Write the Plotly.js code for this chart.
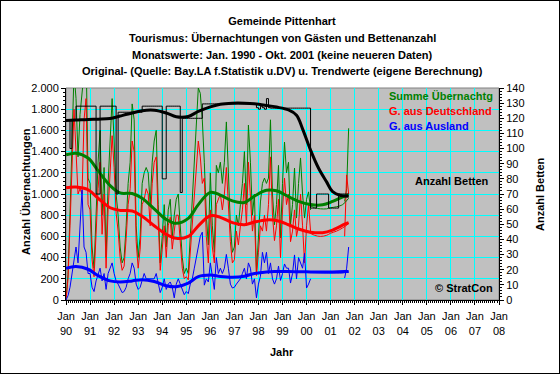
<!DOCTYPE html>
<html><head><meta charset="utf-8">
<script src="https://cdn.plot.ly/plotly-3.0.1.min.js"></script>
<style>
body{margin:0;background:#fff}
#frame{width:560px;height:374px;box-sizing:border-box;border:1px solid #000;overflow:hidden}
#chart{width:558px;height:372px}
</style>
</head><body><div id="frame"><div id="chart"></div></div>
<script>
// ---- data (months counted from Jan 1990 = 0) ----
const yearLabels = ['90','91','92','93','94','95','96','97','98','99','00','01','02','03','04','05','06','07','08'];
const leftTickVals = [0,200,400,600,800,1000,1200,1400,1600,1800,2000];
const leftTickText = ['0','200','400','600','800','1.000','1.200','1.400','1.600','1.800','2.000'];

// Monthly raw values, months 0..122
const summe = [
 0,240,820,1550,2150,1900,1350,1750,2040,2200,2350,1150,
 1100,500,300,800,1300,1600,800,1250,400,1100,1500,
 1900,1500,1000,800,500,350,400,700,1100,1300,1850,
 1700,700,400,600,1100,1200,1250,1200,900,1300,1500,
 1600,900,350,600,900,500,850,950,600,800,950,
 1000,700,400,250,300,250,600,900,1300,1650,2000,
 1950,1700,1300,800,520,1200,700,450,1270,1200,1300,
 1100,1300,1680,1200,700,450,500,800,700,900,1100,
 1400,900,1650,1300,800,1000,260,600,925,1100,1150,
 1100,1150,1700,1000,710,900,1270,585,1100,1490,1200,
 1300,710,900,1245,773,1100,1340,1000,773,950,1020,850];
const deutsch = [
 0,200,700,1300,1800,1400,1000,1050,1000,1700,1900,900,
 850,380,220,620,1050,1300,620,1000,300,850,1200,
 1550,1250,820,650,400,280,320,580,900,1050,1500,
 1400,550,300,480,900,950,1050,1000,700,1100,1300,
 1350,750,280,480,700,400,700,780,480,650,800,
 800,550,300,200,220,190,450,700,1000,1250,1500,
 1350,1100,1150,600,350,850,500,350,900,950,1000,
 850,1000,1250,900,550,350,380,650,520,700,850,
 1100,700,1300,1000,650,800,230,450,700,650,800,
 650,900,1350,800,560,700,950,400,850,1150,900,
 1000,550,650,850,600,700,1000,700,350,700,900,650];
const ausland = [
 0,40,120,250,350,500,350,700,1040,500,450,250,
 250,120,80,180,250,300,180,250,100,250,300,
 350,250,180,150,100,70,80,120,200,250,350,
 300,150,100,120,200,250,200,200,200,200,200,
 250,150,70,120,200,100,150,170,120,20,150,
 200,150,100,50,80,60,150,200,300,400,500,
 600,640,140,200,170,350,200,100,400,250,300,
 250,300,430,300,150,113,120,150,180,200,250,
 300,200,350,300,150,200,20,150,225,450,350,
 450,250,350,200,150,200,320,185,250,340,300,
 300,160,250,425,200,400,340,300,440,113,150,200];
// last reported months (Aug - Okt 2001)
const tailMonths = [139,140,141];
const summeTail = [930,1050,1620];
const deutschTail = [600,1180,1000];
const auslandTail = [207,300,500];

// Trend values (eigene Berechnung)
const trendMonths = [0,5,11,16,22,27,33,38,44,50,55,61,66,72,77,83,89,94,100,105,111,116,122,128,133,139,141];
const summeTrend = [1370,1385,1340,1220,1080,1010,1005,960,860,760,723,770,900,1015,990,935,920,980,1035,1030,975,930,900,898,930,980,990];
const deutschTrend = [1060,1065,1040,960,870,845,840,790,700,620,582,600,700,795,780,730,710,735,755,750,710,670,640,635,660,715,730];
const auslandTrend = [300,315,290,230,180,170,180,192,175,135,125,160,220,235,222,215,225,250,265,268,268,267,265,265,265,268,270];
// second (thin) trend at the end
const trend2Months = [121,124,127,130,132,135,138,141];
const summeTrend2 = [900,870,860,860,870,880,900,960];
const deutschTrend2 = [640,610,600,610,630,650,680,720];
const auslandTrend2 = [260,258,256,255,255,255,255,265];

// Beds (Anzahl Betten), monthly, months 0..141
const betten = [
 119,119,100,119,119,
 128,128,128,128,128,128,128,128,128,128,
 70,70,
 128,128,128,128,128,128,128,128,
 70,
 124,124,124,124,124,124,124,124,124,124,124,124,
 128,128,128,128,128,128,128,128,128,128,
 80,80,
 128,128,128,128,128,128,128,
 71,
 120,120,120,120,120,120,120,120,120,120,
 129.5,129.5,129.5,129.5,129.5,129.5,129.5,129.5,129.5,129.5,
 129.5,129.5,129.5,129.5,129.5,129.5,129.5,129.5,129.5,129.5,
 129.5,129.5,129.5,129.5,129.5,129.5,129.5,
 127,126,128,127,126,133,127,
 126.7,126.7,126.7,126.7,126.7,126.7,126.7,126.7,126.7,126.7,
 126.7,126.7,126.7,126.7,126.7,126.7,126.7,126.7,126.7,126.7,
 60.7,60.7,60.7,
 70,70,70,70,70,70,
 60.7,60.7,60.7,60.7,60.7,
 70,70,70,70,70,70];
const bettenTrendMonths = [0,5,11,16,22,27,33,38,44,50,55,61,66,72,77,83,89,94,100,105,111,115,118,122,126,130,133,137,141];
const bettenTrend = [118.5,118.8,119.2,119.4,119.8,121.5,123.5,125,125.3,123.5,121,121.2,124.5,127.5,129.3,130,130,129.6,128.5,127.4,125.5,122,113,99,87,78,71.5,69,68.5];

// ---- build ----
const months = summe.map((_, i) => i);
const rawX = months.concat([null], tailMonths);
const join = (a, t) => a.concat([null], t);
const GREEN = '#008000', RED = '#ff0000', BLUE = '#0000ff';
const FONT = 'Liberation Sans, Arial, sans-serif';

const traces = [
  {x: rawX, y: join(summe, summeTail), mode: 'lines', line: {color: GREEN, width: 1}, name: 'Summe Übernachtg'},
  {x: rawX, y: join(deutsch, deutschTail), mode: 'lines', line: {color: RED, width: 1}, name: 'G. aus Deutschland'},
  {x: rawX, y: join(ausland, auslandTail), mode: 'lines', line: {color: BLUE, width: 1}, name: 'G. aus Ausland'},
  {x: trend2Months, y: summeTrend2, mode: 'lines', line: {color: GREEN, width: 1, shape: 'spline'}},
  {x: trend2Months, y: deutschTrend2, mode: 'lines', line: {color: RED, width: 1, shape: 'spline'}},
  {x: trend2Months, y: auslandTrend2, mode: 'lines', line: {color: BLUE, width: 1, shape: 'spline'}},
  {x: trendMonths, y: summeTrend, mode: 'lines', line: {color: GREEN, width: 3, shape: 'spline'}},
  {x: trendMonths, y: deutschTrend, mode: 'lines', line: {color: RED, width: 3, shape: 'spline'}},
  {x: trendMonths, y: auslandTrend, mode: 'lines', line: {color: BLUE, width: 3, shape: 'spline'}},
  {x: betten.map((_, i) => i), y: betten, yaxis: 'y2', mode: 'lines', line: {color: '#000', width: 1, shape: 'hv'}, name: 'Anzahl Betten'},
  {x: bettenTrendMonths, y: bettenTrend, yaxis: 'y2', mode: 'lines', line: {color: '#000', width: 3, shape: 'spline'}}
];

const L = 66, R = 499, T = 88, B = 300;
const px = x => (x - L) / (R - L);
const py = y => (B - y) / (B - T);
const bold = {family: FONT, size: 11, color: '#000', weight: 'bold'};
const ann = (text, x, y, color, xanchor, extra) => Object.assign({
  text, x: px(x), y: py(y), xref: 'paper', yref: 'paper', showarrow: false,
  xanchor: xanchor || 'center', yanchor: 'middle',
  font: Object.assign({}, bold, {color: color || '#000'})
}, extra || {});

const layout = {
  width: 558, height: 372,
  margin: {l: L - 1, r: 558 - (R - 1), t: T - 1, b: 372 - (B - 1), pad: 0},
  paper_bgcolor: '#fff', plot_bgcolor: '#c0c0c0',
  showlegend: false,
  title: {text: 'Gemeinde Pittenhart', font: bold, x: (282 - 1) / 558, xanchor: 'center', xref: 'container',
          y: 1 - (21 - 1) / 372, yanchor: 'middle', yref: 'container'},
  xaxis: {
    range: [0, 216], tickmode: 'array',
    tickvals: yearLabels.map((_, i) => i * 12),
    ticktext: yearLabels.map(y => 'Jan<br>' + y),
    showgrid: true, gridcolor: '#00ffff', gridwidth: 1,
    showline: true, linecolor: '#000', linewidth: 1,
    ticks: 'outside', ticklen: 4, tickcolor: '#000', ticklabelstandoff: 2,
    minor: {tickmode: 'linear', tick0: 0, dtick: 1, ticks: 'outside', ticklen: 2, tickcolor: '#000', showgrid: false},
    tickfont: {family: FONT, size: 11, color: '#000'}, zeroline: false, fixedrange: true
  },
  yaxis: {
    range: [0, 2000], tickmode: 'array', tickvals: leftTickVals, ticktext: leftTickText,
    showgrid: true, gridcolor: '#00ffff', gridwidth: 1,
    showline: true, linecolor: '#000', linewidth: 1,
    ticks: 'outside', ticklen: 4, tickcolor: '#000',
    minor: {tickmode: 'linear', tick0: 0, dtick: 40, ticks: 'outside', ticklen: 2, tickcolor: '#000', showgrid: false},
    tickfont: {family: FONT, size: 11, color: '#000'}, zeroline: false
  },
  yaxis2: {
    range: [0, 140], overlaying: 'y', side: 'right', dtick: 10, tick0: 0,
    showgrid: false, showline: true, linecolor: '#000', linewidth: 1,
    ticks: 'outside', ticklen: 4, tickcolor: '#000',
    minor: {tickmode: 'linear', tick0: 0, dtick: 2, ticks: 'outside', ticklen: 2, tickcolor: '#000', showgrid: false},
    tickfont: {family: FONT, size: 11, color: '#000'}, zeroline: false
  },
  shapes: [{type: 'rect', xref: 'paper', yref: 'paper', x0: 0, x1: 1, y0: 0, y1: 1,
            line: {color: '#808080', width: 1}, layer: 'below'}],
  annotations: [
    ann('Tourismus: Übernachtungen von Gästen und Bettenanzahl', 282, 38),
    ann('Monatswerte: Jan. 1990 - Okt. 2001 (keine neueren Daten)', 282, 55),
    ann('Original- (Quelle: Bay.LA f.Statistik u.DV) u. Trendwerte (eigene Berechnung)', 282, 71),
    ann('Anzahl Übernachtungen', 26, 192, '#000', 'center', {textangle: -90}),
    ann('Anzahl Betten', 540, 194, '#000', 'center', {textangle: -90}),
    ann('Jahr', 282, 352),
    ann('Summe Übernachtg', 387, 96, GREEN, 'left'),
    ann('G. aus Deutschland', 387, 111, RED, 'left'),
    ann('G. aus Ausland', 387, 126, BLUE, 'left'),
    ann('Anzahl Betten', 413, 181, '#000', 'left'),
    ann('© StratCon', 495, 288, '#000', 'right')
  ]
};

Plotly.newPlot('chart', traces, layout, {staticPlot: true, displayModeBar: false});
</script></body></html>
